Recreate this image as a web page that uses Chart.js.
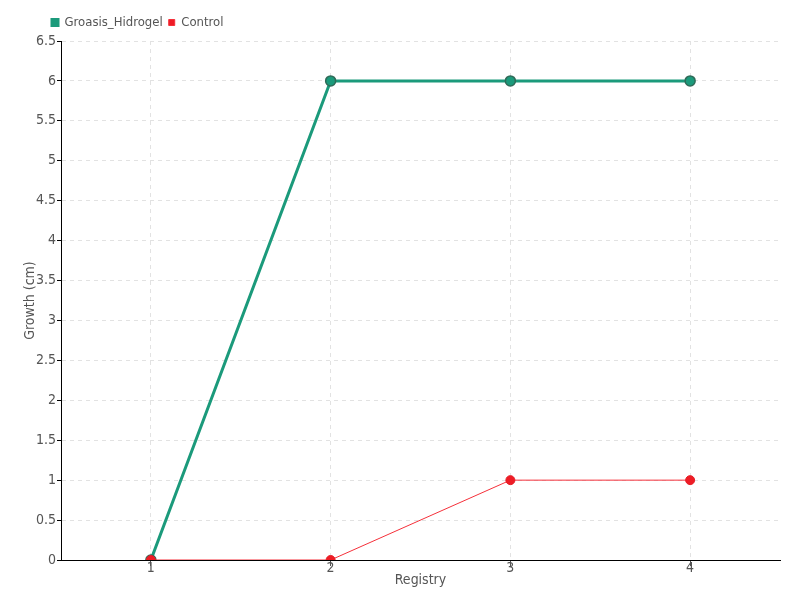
<!DOCTYPE html>
<html>
<head>
<meta charset="utf-8">
<script src="https://cdn.jsdelivr.net/npm/chart.js@4.4.1/dist/chart.umd.min.js"></script>
<style>
    html, body { margin: 0; padding: 0; background: #fff; }
    #wrap { width: 800px; height: 600px; }
</style>
</head>
<body>
<div id="wrap"><canvas id="chart" width="800" height="600"></canvas></div>
<script>
// ==================== DATOS ====================
const registries = [1, 2, 3, 4];
const hidrogelValues = [0, 6, 6, 6];
const controlValues = [0, 0, 1, 1];
const seriesNames = ['Groasis_Hidrogel', 'Control'];
const xTitle = 'Registry';
const yTitle = 'Growth (cm)';

const FONT = "'Liberation Sans Narrow', 'DejaVu Sans Condensed', sans-serif";
const TEXT = '#555';

function toPoints(values) {
    return registries.map((r, i) => ({ x: r, y: values[i] }));
}

// mueve la leyenda un poco, como en el original
const legendShift = {
    id: 'legendShift',
    afterLayout(chart) {
        const lg = chart.legend;
        lg.left += 46;
        lg.right += 46;
        lg.top -= 2;
        lg.bottom -= 2;
    }
};

// ==================== CHART ====================
const ctx = document.getElementById('chart').getContext('2d');

const chart = new Chart(ctx, {
    type: 'line',
    data: {
        datasets: [{
            label: seriesNames[1],
            data: toPoints(controlValues),
            borderColor: '#f5303a',
            backgroundColor: '#ee1c25',
            borderWidth: 1,
            pointRadius: 4.5,
            pointBorderWidth: 1,
            pointBorderColor: '#e51e27',
            pointBackgroundColor: '#ee1c25',
            tension: 0,
            order: 1
        }, {
            label: seriesNames[0],
            data: toPoints(hidrogelValues),
            borderColor: '#1b9a7b',
            backgroundColor: '#1b9a7b',
            borderWidth: 3,
            pointRadius: 5,
            pointBorderWidth: 1.5,
            pointBorderColor: '#2f6b58',
            pointBackgroundColor: '#1b9a7b',
            tension: 0,
            order: 2
        }]
    },
    plugins: [legendShift],
    options: {
        animation: false,
        responsive: false,
        devicePixelRatio: 1,
        layout: { padding: { left: 0, right: 20, top: 12, bottom: 0 } },
        plugins: {
            tooltip: { enabled: false },
            legend: {
                position: 'top',
                align: 'start',
                reverse: true,
                labels: {
                    boxWidth: 6,
                    boxHeight: 6,
                    padding: 6,
                    color: TEXT,
                    font: { family: FONT, size: 13 }
                }
            }
        },
        scales: {
            x: {
                type: 'linear',
                min: 0.5,
                max: 4.5,
                afterBuildTicks: (scale) => {
                    scale.ticks = registries.map(v => ({ value: v }));
                },
                afterFit: (scale) => { scale.height = 40; },
                border: { display: true, color: '#000', width: 1, dash: [4, 4] },
                grid: {
                    color: '#e2e2e2',
                    tickColor: '#555',
                    tickBorderDash: [],
                    tickLength: 6,
                    drawTicks: true
                },
                ticks: {
                    color: TEXT,
                    padding: -6,
                    font: { family: FONT, size: 14 }
                },
                title: {
                    display: true,
                    text: xTitle,
                    color: TEXT,
                    padding: { top: 0, bottom: 11 },
                    font: { family: FONT, size: 14 }
                }
            },
            y: {
                min: 0,
                max: 6.5,
                afterFit: (scale) => { scale.width = 61; },
                border: { display: true, color: '#000', width: 1, dash: [4, 4] },
                grid: {
                    color: '#e2e2e2',
                    tickColor: '#000',
                    tickBorderDash: [],
                    tickLength: 4
                },
                ticks: {
                    stepSize: 0.5,
                    color: TEXT,
                    padding: 1,
                    callback: (v) => String(v),
                    font: { family: FONT, size: 14 }
                },
                title: {
                    display: true,
                    text: yTitle,
                    color: TEXT,
                    padding: { top: 22, bottom: 0 },
                    font: { family: FONT, size: 14 }
                }
            }
        }
    }
});
</script>
</body>
</html>
